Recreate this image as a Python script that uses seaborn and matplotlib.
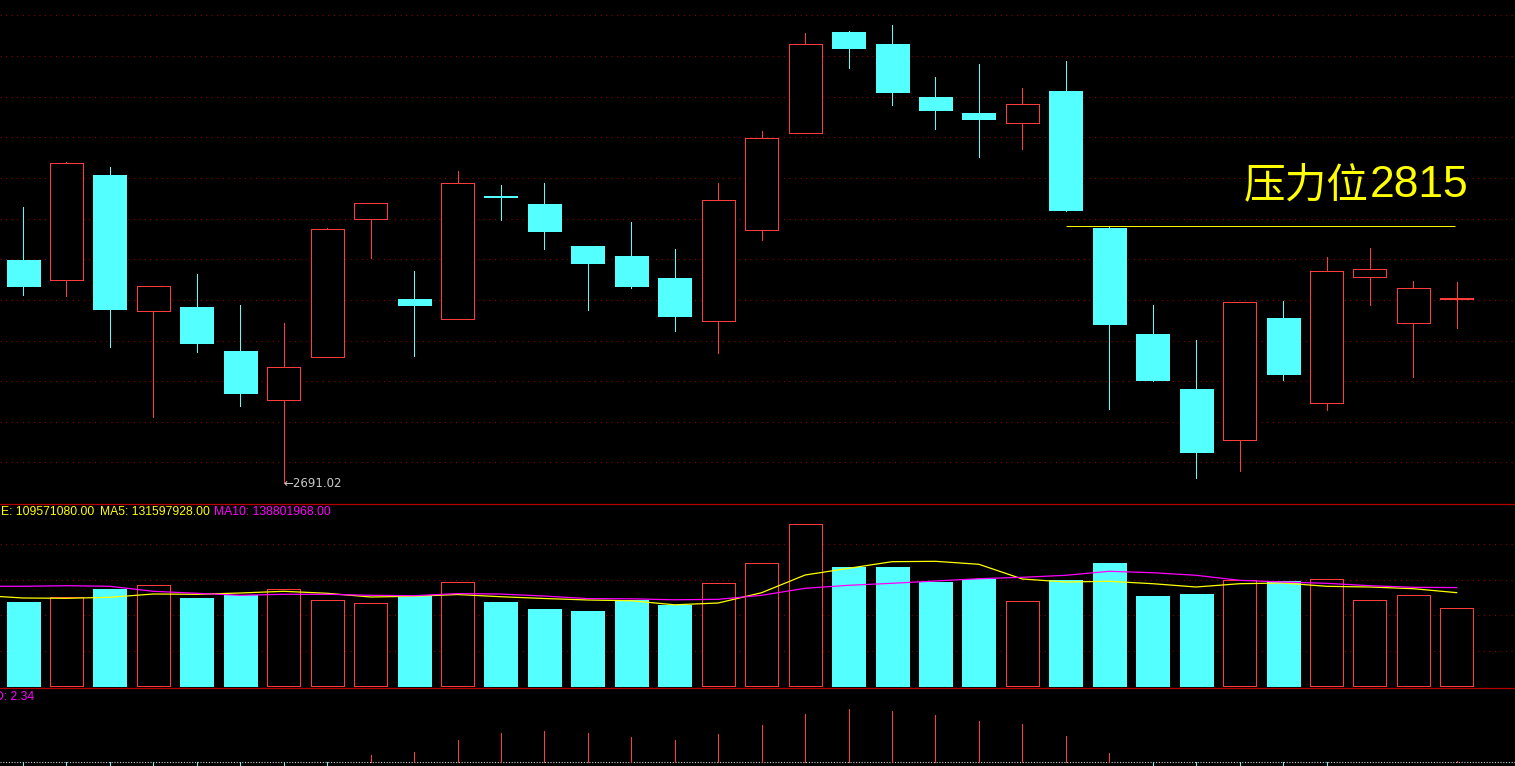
"""
K-line chart (dark terminal style): candles + volume with MA5/MA10 + indicator.
"""

import matplotlib
matplotlib.use("Agg")
import matplotlib.pyplot as plt
import numpy as np
import pandas as pd
import seaborn as sns

# ---- candles (price)
opens = [2798.60, 2788.95, 2839.60, 2773.99, 2775.92, 2754.70, 2731.06, 2751.80, 2818.37, 2779.78,
         2770.13, 2829.47, 2825.61, 2805.35, 2800.53, 2789.91, 2769.17, 2813.07, 2859.86, 2908.58,
         2902.79, 2877.23, 2869.51, 2864.68, 2880.12, 2814.03, 2762.90, 2736.37, 2711.76, 2770.62,
         2729.61, 2790.40, 2768.20, 2779.78]
closes = [2786.05, 2845.39, 2774.96, 2786.05, 2758.56, 2734.44, 2746.98, 2813.55, 2826.09, 2776.89,
          2835.74, 2828.99, 2812.59, 2797.15, 2786.05, 2771.58, 2827.54, 2857.45, 2902.79, 2900.86,
          2879.64, 2870.96, 2866.61, 2873.85, 2822.72, 2767.72, 2740.71, 2705.98, 2778.34, 2743.60,
          2793.29, 2794.25, 2785.09, 2780.02]
highs = [2824.16, 2845.87, 2843.46, 2786.05, 2791.84, 2776.89, 2768.20, 2814.03, 2826.09, 2793.29,
         2841.53, 2834.78, 2835.74, 2805.35, 2816.93, 2803.90, 2835.74, 2860.83, 2908.10, 2909.07,
         2911.96, 2886.88, 2893.15, 2881.57, 2894.59, 2814.52, 2776.89, 2760.00, 2778.34, 2778.82,
         2800.04, 2804.38, 2788.47, 2787.98]
lows = [2781.71, 2781.23, 2756.63, 2722.86, 2754.22, 2728.17, 2691.02, 2751.80, 2799.56, 2752.29,
        2770.13, 2817.89, 2803.90, 2774.48, 2785.09, 2764.35, 2753.73, 2808.24, 2859.86, 2891.22,
        2873.37, 2861.79, 2848.28, 2852.14, 2822.23, 2726.72, 2740.23, 2693.43, 2696.81, 2740.71,
        2726.24, 2776.89, 2742.16, 2765.79]

# ---- volume, millions
vol_m = [118.46, 125.09, 136.79, 142.01, 124.10, 127.91, 136.37, 120.85, 116.62, 126.92,
         146.66, 118.46, 108.59, 105.77, 121.28, 114.23, 144.83, 173.03, 228.03, 167.81,
         167.81, 146.66, 150.89, 119.44, 149.48, 173.45, 126.92, 129.74, 149.06, 148.07,
         150.47, 120.85, 127.91, 109.57]
# MA lines (first value = day before the window)
ma5_m = [127.91,
         124.10, 123.67, 125.09, 129.74, 129.32, 131.15, 133.55, 130.73, 125.51, 126.49,
         129.00, 125.90, 123.40, 121.30, 120.20, 114.50, 117.05, 131.57, 156.53, 165.98,
         175.29, 175.85, 171.62, 150.89, 146.66, 147.65, 144.26, 139.61, 144.26, 145.25,
         140.60, 139.61, 137.21, 131.60]
ma10_m = [140.60,
          140.60, 141.44, 140.60, 133.55, 130.73, 127.91, 129.32, 129.32, 127.91, 127.34,
          130.33, 129.67, 126.85, 123.23, 122.94, 121.58, 122.26, 127.91, 137.78, 142.01,
          144.83, 148.07, 151.31, 153.29, 156.11, 161.75, 159.78, 156.11, 149.06, 146.66,
          144.83, 141.44, 139.19, 138.80]

# ---- bottom indicator
ind = [-30, -30, -30, -30, -30, -30, -30, -30, 16.4, 23.4,
       51.5, 67.9, 72.5, 67.9, 58.5, 51.5, 65.5, 86.6, 112.3, 124.0,
       119.3, 110.0, 95.9, 88.9, 60.8, 21.1, -30, -30, -30, -30,
       -30, 0, 0, 2.34]

pressure = 2815.0
low_mark = 2691.02
low_idx = 6

# цвета
CYAN = "#54FFFF"
RED = "#FF3C3C"
GRID = "#8c0000"
SEP = "#b40000"
YEL = "#FFFF00"
MAG = "#FF00FF"
LW = 0.7  # ~1 px

sns.set_style("dark", {"axes.facecolor": "black", "figure.facecolor": "black"})
plt.rcParams["font.family"] = ["Liberation Sans", "DejaVu Sans", "Noto Sans CJK SC"]

df = pd.DataFrame({"open": opens, "close": closes, "high": highs, "low": lows, "vol": vol_m})
df["idx"] = np.arange(len(df))
df["up"] = df["close"] >= df["open"]
n = len(df)

W, H = 1515, 766
fig = plt.figure(figsize=(W / 100, H / 100), dpi=100, facecolor="black")
ax = fig.add_axes([0, 262 / H, 1, 504 / H])
axv = fig.add_axes([0, 78 / H, 1, 184 / H])
axi = fig.add_axes([0, 0, 1, 78 / H])

step = 43.45
xlim = (-23 / step, (W - 23) / step)
bw = 33 / step

for a in (ax, axv, axi):
    a.set_facecolor("black")
    a.set_xlim(*xlim)
    for s in a.spines.values():
        s.set_visible(False)
    a.tick_params(left=False, bottom=False, labelleft=False, labelbottom=False)
    a.grid(False)

# ---- main panel
k = 0.4824  # price per pixel
ax.set_ylim(2924.02 - 504 * k, 2924.02)
ax.set_yticks(2916.64 - 19.61 * np.arange(12))
ax.grid(axis="y", color=GRID, linestyle=(0, (1, 4)), linewidth=0.8)
ax.set_axisbelow(True)

col = np.where(df["up"], RED, CYAN)
ax.vlines(df["idx"], df["low"], df["high"], colors=col, linewidth=LW, zorder=2,
          antialiased=False)
body_h = np.maximum((df["close"] - df["open"]).abs(), 0.3)
body_b = np.minimum(df["open"], df["close"])
ax.bar(df["idx"], body_h, bottom=body_b, width=bw,
       color=np.where(df["up"], "black", CYAN), edgecolor=col, linewidth=LW,
       zorder=3, antialiased=False)

ax.hlines(pressure, 24, n - 1.05, color=YEL, linewidth=LW, zorder=4)
ax.text(1369 / W, (504 - 197) / 504, "压力位", transform=ax.transAxes, color=YEL,
        fontsize=30, family=["Noto Sans CJK SC"], ha="right", va="baseline")
ax.text(1370 / W, (504 - 197) / 504, "2815", transform=ax.transAxes, color=YEL,
        fontsize=32, family=["Liberation Sans"], ha="left", va="baseline")
ax.text(low_idx, low_mark, "\u2190" + f"{low_mark:.2f}", color="#c8c8c8", fontsize=8.5,
        family=["DejaVu Sans"], ha="left", va="center", zorder=5)

# ---- volume panel
axv.set_ylim(-2 * 1.4102, 182 * 1.4102)
axv.set_yticks([50, 100, 150, 200])
axv.grid(axis="y", color=GRID, linestyle=(0, (1, 4)), linewidth=0.8)
axv.set_axisbelow(True)
axv.bar(df["idx"], df["vol"], width=bw, color=np.where(df["up"], "black", CYAN),
        edgecolor=col, linewidth=LW, zorder=2, antialiased=False)
ma_x = np.arange(-1, n)
sns.lineplot(x=ma_x, y=ma5_m, color=YEL, linewidth=0.9, ax=axv, zorder=4)
sns.lineplot(x=ma_x, y=ma10_m, color=MAG, linewidth=0.9, ax=axv, zorder=4)
axv.set_xlim(*xlim)
axv.set_xlabel("")
axv.set_ylabel("")

fy = (H - 512) / H
fig.text(1 / W, fy, "E: 109571080.00", color=YEL, fontsize=8.7, va="center")
fig.text(100 / W, fy, "MA5: 131597928.00", color=YEL, fontsize=8.7, va="center")
fig.text(214 / W, fy, "MA10: 138801968.00", color=MAG, fontsize=8.7, va="center")

# ---- indicator panel
axi.set_ylim(-4 * 2.34, 74 * 2.34)
axi.axhline(0, color="#d0d0d0", linestyle=(0, (1, 1.5)), linewidth=0.8, zorder=1)
ind_arr = np.array(ind)
axi.vlines(df["idx"], 0, ind_arr, colors=np.where(ind_arr >= 0, RED, CYAN),
           linewidth=LW, zorder=2, antialiased=False)
fig.text(-5 / W, (H - 697) / H, "D: 2.34", color=MAG, fontsize=8.7, va="center")

# separators
for yy in (262 / H, 78 / H):
    fig.add_artist(plt.Line2D([0, 1], [yy, yy], transform=fig.transFigure,
                              color=SEP, linewidth=0.9))

fig.savefig("out.png", dpi=100, facecolor="black")
